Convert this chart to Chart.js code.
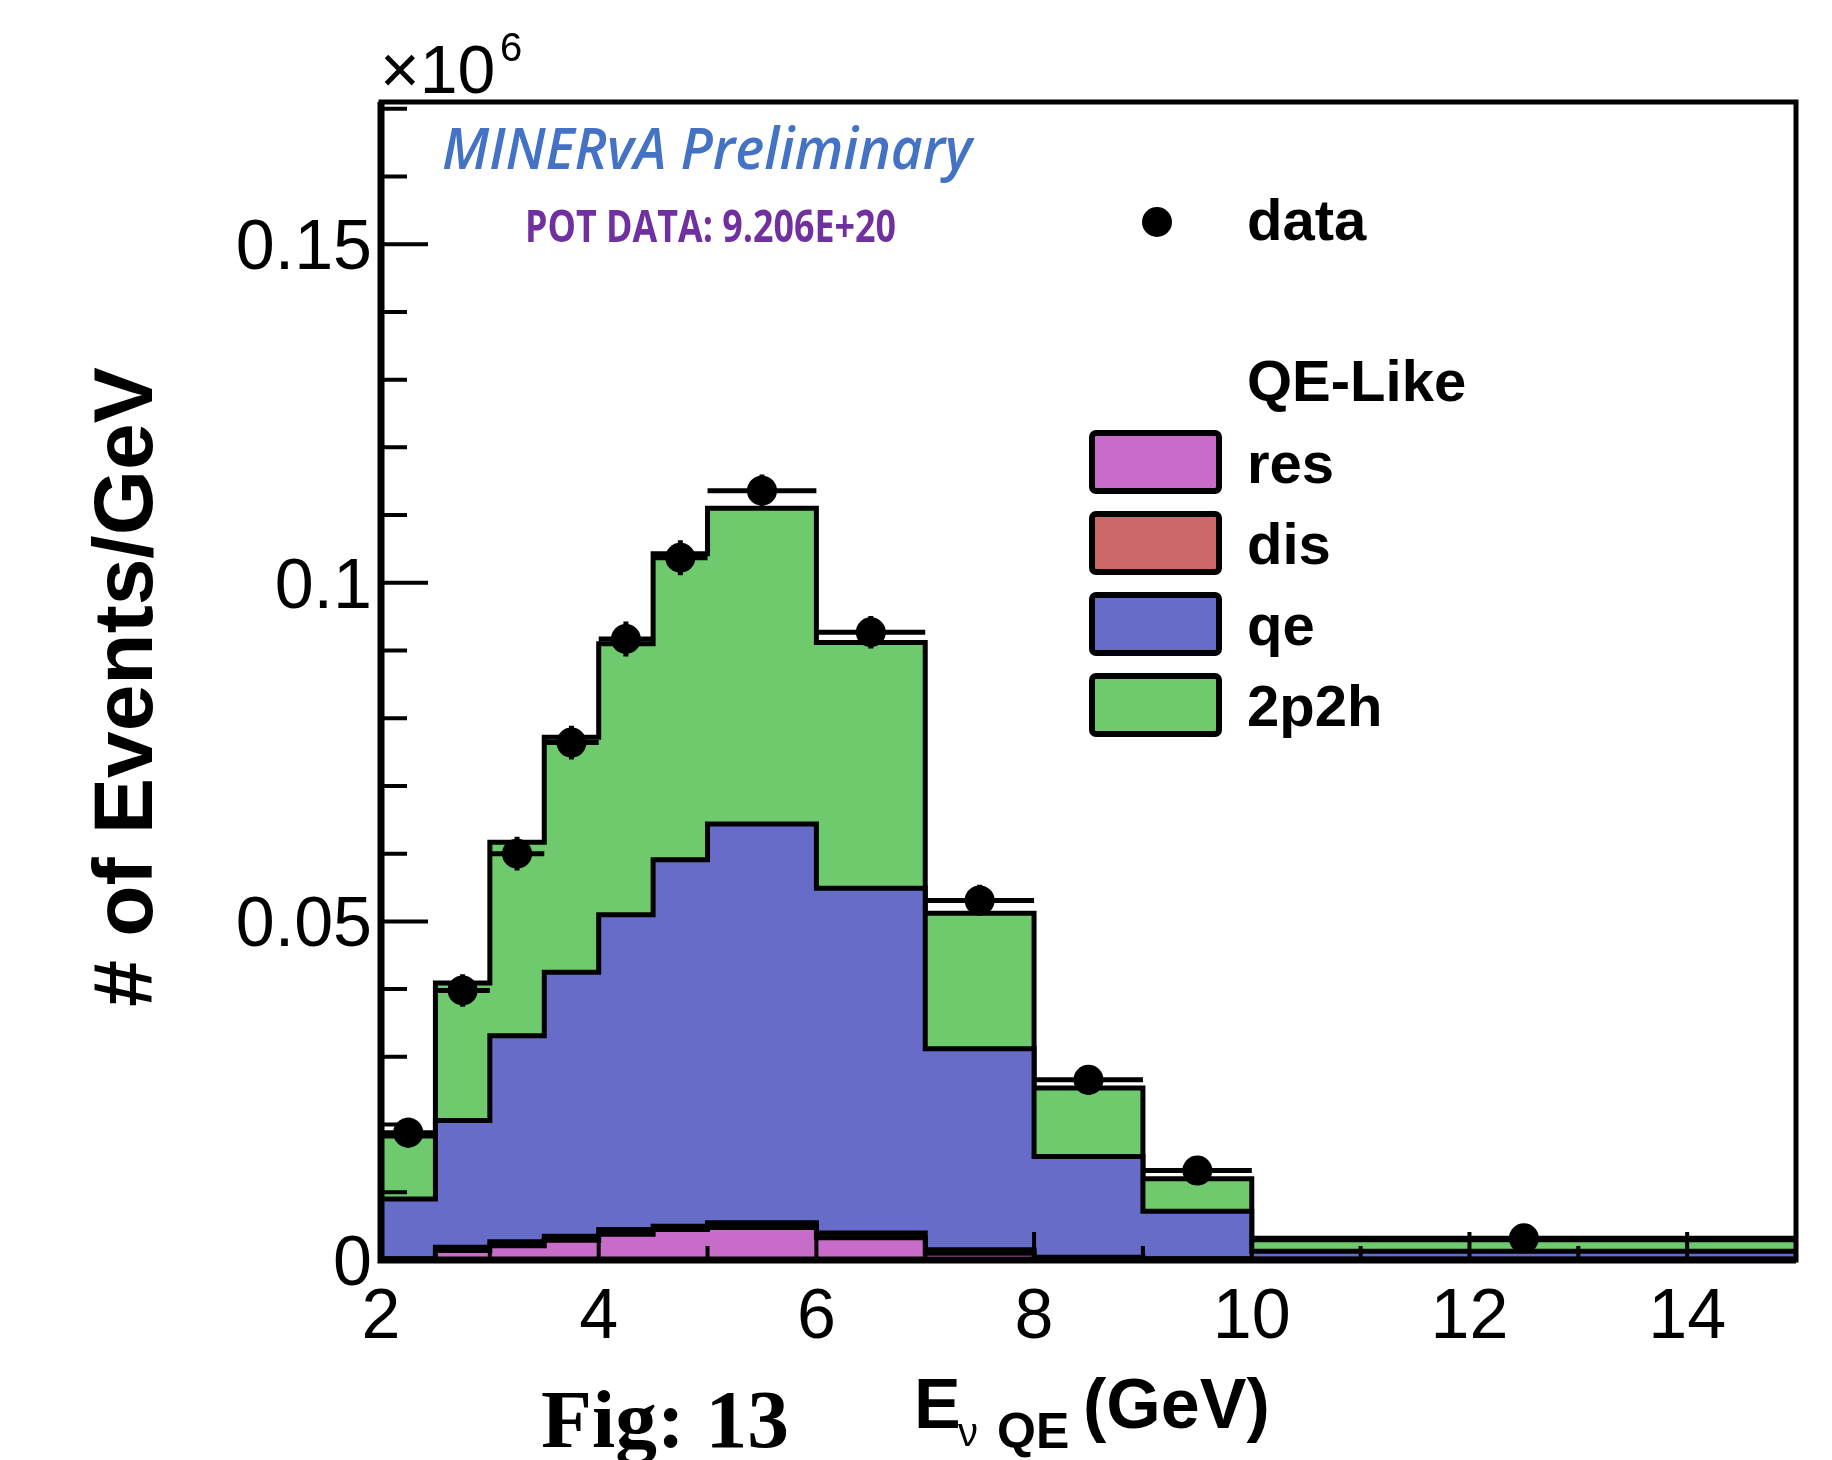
<!DOCTYPE html>
<html>
<head>
<meta charset="utf-8">
<script src="https://cdn.jsdelivr.net/npm/chart.js@4.4.1/dist/chart.umd.min.js"></script>
<style>
  html, body { margin: 0; padding: 0; background: #fff; }
  #wrap { width: 1832px; height: 1460px; position: relative; }
</style>
</head>
<body>
<div id="wrap"><canvas id="chart"></canvas></div>
<script>
// bin edges (GeV) and stacked MC components, in units of 10^6 events/GeV
const binEdges = [2, 2.5, 3, 3.5, 4, 4.5, 5, 6, 7, 8, 9, 10, 15];
const resVals  = [0.0000, 0.0014, 0.0021, 0.0029, 0.0038, 0.0045, 0.0048, 0.0033, 0.0010, 0.0001, 0.0000, 0.0000];
const disVals  = [0.0002, 0.0005, 0.0006, 0.0006, 0.0007, 0.0005, 0.0007, 0.0007, 0.0005, 0.0003, 0.0002, 0.0001];
const qeVals   = [0.0088, 0.0187, 0.0304, 0.0390, 0.0465, 0.0541, 0.0589, 0.0509, 0.0297, 0.0149, 0.0070, 0.0012];
const mecVals  = [0.0093, 0.0203, 0.0286, 0.0347, 0.0400, 0.0452, 0.0466, 0.0363, 0.0200, 0.0101, 0.0048, 0.0017];

// data points
const dataX    = [2.25, 2.75, 3.25, 3.75, 4.25, 4.75, 5.5, 6.5, 7.5, 8.5, 9.5, 12.5];
const dataVals = [0.0188, 0.0398, 0.0600, 0.0764, 0.0917, 0.1037, 0.1136, 0.0927, 0.0531, 0.0266, 0.0132, 0.0032];
const dataErr  = [0.0022, 0.0024, 0.0025, 0.0025, 0.0026, 0.0026, 0.0024, 0.0024, 0.0023, 0.0022, 0.0021, 0.0010];

const xTicks = [2, 4, 6, 8, 10, 12, 14];
const yTicks = [0, 0.05, 0.1, 0.15];
const legendLabels = ['res', 'dis', 'qe', '2p2h'];
const fillColors = ['#c76dc9', '#cb6767', '#666cc8', '#6fca6e'];

const SANS = '"Liberation Sans", Arial, sans-serif';

// histogram as stepped line: value i spans binEdges[i]..binEdges[i+1]
const stepPoints = vals => binEdges.map((x, i) => ({ x, y: vals[Math.min(i, vals.length - 1)] }));

const histSets = [resVals, disVals, qeVals, mecVals].map((vals, i) => ({
    label: legendLabels[i],
    data: stepPoints(vals),
    stepped: 'before',
    fill: 'origin',
    backgroundColor: fillColors[i],
    borderColor: '#000',
    borderWidth: 5,
    pointRadius: 0,
    stack: 'mc',
    order: i + 1
}));

const dataSet = {
    label: 'data',
    data: dataX.map((x, i) => ({ x, y: dataVals[i] })),
    showLine: false,
    fill: false,
    pointRadius: 15,
    pointBackgroundColor: '#000',
    pointBorderWidth: 0,
    stack: 'data',
    order: 0
};

function fitText(ctx, text, x, y, width) {
    const w = ctx.measureText(text).width;
    ctx.save();
    ctx.translate(x, y);
    ctx.scale(width / w, 1);
    ctx.fillText(text, 0, 0);
    ctx.restore();
}

const decor = {
    id: 'decor',
    afterDatasetsDraw(chart) {
        const { ctx, chartArea: a, scales: { x, y } } = chart;
        ctx.save();
        ctx.strokeStyle = '#000';
        ctx.fillStyle = '#000';

        // data error bars
        ctx.lineWidth = 5;
        dataVals.forEach((v, i) => {
            const yp = y.getPixelForValue(v);
            const xc = x.getPixelForValue(dataX[i]);
            ctx.beginPath();
            ctx.moveTo(x.getPixelForValue(binEdges[i]), yp);
            ctx.lineTo(x.getPixelForValue(binEdges[i + 1]), yp);
            ctx.moveTo(xc, y.getPixelForValue(v - dataErr[i]));
            ctx.lineTo(xc, y.getPixelForValue(v + dataErr[i]));
            ctx.stroke();
        });

        // ticks (inside the frame)
        ctx.lineWidth = 4;
        ctx.beginPath();
        for (let k = 0; k <= 17; k++) {
            const yp = y.getPixelForValue(k / 100);
            ctx.moveTo(a.left, yp);
            ctx.lineTo(a.left + (k % 5 === 0 ? 47 : 26), yp);
        }
        for (let g = 3; g <= 14; g++) {
            const xp = x.getPixelForValue(g);
            ctx.moveTo(xp, a.bottom);
            ctx.lineTo(xp, a.bottom - (g % 2 === 0 ? 28 : 14));
        }
        ctx.stroke();

        // frame
        ctx.lineWidth = 5;
        ctx.strokeRect(a.left, a.top, a.right - a.left, a.bottom - a.top);
        ctx.lineWidth = 7;
        ctx.beginPath();
        ctx.moveTo(a.left, a.top);
        ctx.lineTo(a.left, a.bottom);
        ctx.lineTo(a.right, a.bottom);
        ctx.stroke();

        // tick labels
        ctx.font = '70px ' + SANS;
        ctx.textAlign = 'right';
        ctx.textBaseline = 'alphabetic';
        yTicks.forEach(v => ctx.fillText(String(v), a.left - 9, y.getPixelForValue(v) + 25));
        ctx.textAlign = 'center';
        xTicks.forEach(v => ctx.fillText(String(v), x.getPixelForValue(v), a.bottom + 78));

        // exponent
        ctx.textAlign = 'left';
        ctx.font = '68px ' + SANS;
        ctx.fillText('\u00d710', 380, 93);
        ctx.font = '40px ' + SANS;
        ctx.fillText('6', 500, 61);

        // axis titles
        ctx.font = 'bold 84px ' + SANS;
        ctx.save();
        ctx.translate(152, 687);
        ctx.rotate(-Math.PI / 2);
        ctx.textAlign = 'center';
        ctx.fillText('# of Events/GeV', 0, 0);
        ctx.restore();

        ctx.textAlign = 'left';
        ctx.font = 'bold 70px ' + SANS;
        ctx.fillText('E', 914, 1428);
        ctx.font = '40px ' + SANS;
        ctx.fillText('\u03bd', 958, 1446);
        ctx.font = 'bold 50px ' + SANS;
        ctx.fillText('QE', 997, 1448);
        ctx.font = 'bold 70px ' + SANS;
        ctx.fillText('(GeV)', 1083, 1428);

        ctx.font = 'bold 83px "Liberation Serif", "Times New Roman", serif';
        fitText(ctx, 'Fig: 13', 541, 1447, 248);

        // annotations
        ctx.fillStyle = '#4472c4';
        ctx.font = 'italic 600 58px "Open Sans", sans-serif';
        fitText(ctx, 'MINERvA Preliminary', 442, 169, 530);
        ctx.fillStyle = '#7030a0';
        ctx.font = 'bold 44px "Open Sans", sans-serif';
        fitText(ctx, 'POT DATA: 9.206E+20', 525, 242, 371);

        // legend
        ctx.fillStyle = '#000';
        ctx.beginPath();
        ctx.arc(1157, 222, 15, 0, Math.PI * 2);
        ctx.fill();
        ctx.font = 'bold 58px ' + SANS;
        ctx.fillText('data', 1247, 240);
        ctx.fillText('QE-Like', 1247, 401);
        legendLabels.forEach((lab, i) => {
            const cy = 462 + i * 81;
            ctx.beginPath();
            ctx.roundRect(1092, cy - 29, 127, 58, 4);
            ctx.fillStyle = fillColors[i];
            ctx.fill();
            ctx.lineWidth = 6;
            ctx.stroke();
            ctx.fillStyle = '#000';
            ctx.fillText(lab, 1247, cy + 21);
        });
        ctx.restore();
    }
};

new Chart(document.getElementById('chart'), {
    type: 'line',
    data: { datasets: [dataSet, ...histSets] },
    options: {
        responsive: true,
        maintainAspectRatio: false,
        animation: false,
        devicePixelRatio: 1,
        layout: { padding: { left: 381, right: 36, top: 102, bottom: 200 } },
        plugins: { legend: { display: false }, tooltip: { enabled: false } },
        scales: {
            x: { type: 'linear', min: 2, max: 15, display: false },
            y: { type: 'linear', stacked: true, min: 0, max: 0.171, display: false }
        }
    },
    plugins: [decor]
});
</script>
</body>
</html>
